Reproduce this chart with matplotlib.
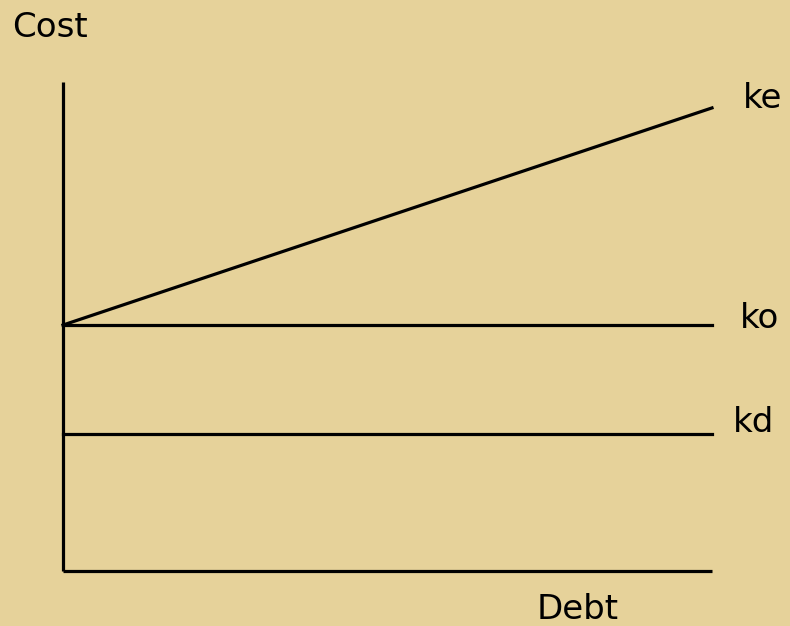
import matplotlib
matplotlib.use("Agg")
import matplotlib.pyplot as plt

# Data (arbitrary cost units vs debt)
debt = [0, 10]
ke = [5.03, 9.47]
ko = [5.03, 5.03]
kd = [2.80, 2.80]
series_labels = ["ke", "ko", "kd"]
x_label = "Debt"
y_label = "Cost"

W, H = 790, 626
fig = plt.figure(figsize=(W / 100, H / 100), dpi=100)
bg = "#E6D29A"
fig.patch.set_facecolor(bg)
ax = fig.add_axes([0, 0, 1, 1])
ax.set_facecolor(bg)
ax.axis("off")

x0, xs = 63, 64.9   # pixel of x=0, px per unit
y0, ys = 571, 48.9  # pixel (from top) of y=0, px per unit
ax.set_xlim(-x0 / xs, (W - x0) / xs)
ax.set_ylim(-(H - y0) / ys, y0 / ys)

lw = 2.3
# axes
ax.plot([0, 0], [0, 10], color="black", lw=lw, solid_capstyle="butt")
ax.plot([0, 10], [0, 0], color="black", lw=lw, solid_capstyle="butt")
for ys_ in (ke, ko, kd):
    ax.plot(debt, ys_, color="black", lw=lw)

fs = 24.5
font = "DejaVu Sans"
def px(x, y):
    return x / W, 1 - y / H
label_pos = {"ke": (743, 108), "ko": (740, 328), "kd": (733, 432)}
for lab in series_labels:
    fx, fy = px(*label_pos[lab])
    fig.text(fx, fy, lab, fontsize=fs, family=font, ha="left", va="baseline")
fx, fy = px(12, 37)
fig.text(fx, fy, y_label, fontsize=fs, family=font, ha="left", va="baseline")
fx, fy = px(537, 619)
fig.text(fx, fy, x_label, fontsize=fs, family=font, ha="left", va="baseline")

fig.savefig("out.png", dpi=100, facecolor=bg)
